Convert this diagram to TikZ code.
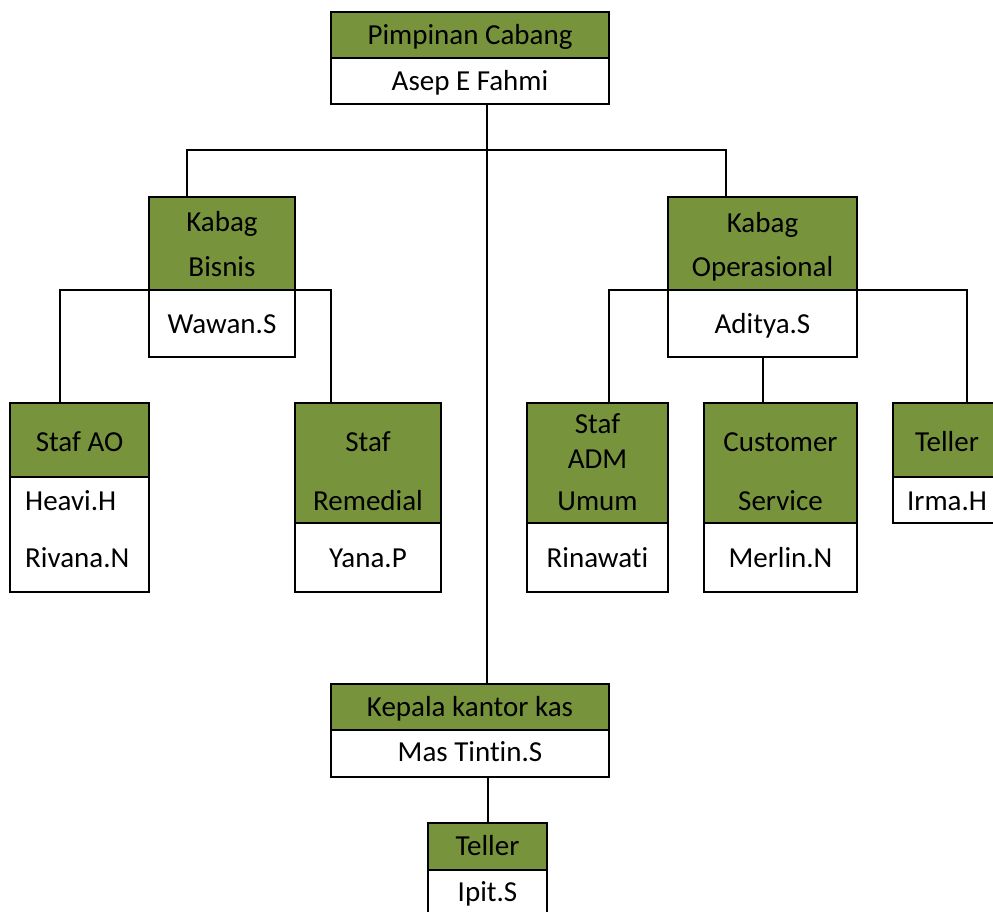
\documentclass[tikz,border=0pt]{standalone}
\usepackage{fontspec}
\setmainfont{Carlito}[Ligatures=NoCommon]
\usetikzlibrary{backgrounds}
\definecolor{olivegreen}{RGB}{119,147,60}
\tikzset{
  box/.style={draw, line width=2pt, inner sep=0pt, outer sep=0pt, anchor=north west},
  hd/.style={box, fill=olivegreen},
  nm/.style={box, fill=white},
  txt/.style={inner sep=0pt, anchor=base, font=\fontsize{29}{35}\selectfont},
  link/.style={line width=2pt}
}
\begin{document}
\begin{tikzpicture}[x=1pt,y=-1pt]
		\clip (0,0) rectangle (993,912);
		% pimpinan
		\node[hd, minimum width=278, minimum height=46] (pc) at (331,12) {};
		\node[nm, minimum width=278, minimum height=46] (pcN) at (331,58) {};
		% kabag
		\node[hd, minimum width=146, minimum height=93] (kb) at (149,197) {};
		\node[nm, minimum width=146, minimum height=67] (kbN) at (149,290) {};
		\node[hd, minimum width=189, minimum height=93] (ko) at (668,197) {};
		\node[nm, minimum width=189, minimum height=67] (koN) at (668,290) {};
		% staf
		\node[hd, minimum width=139, minimum height=74] (ao) at (10,403) {};
		\node[nm, minimum width=139, minimum height=115] (aoN) at (10,477) {};
		\node[hd, minimum width=146, minimum height=120] (rm) at (295,403) {};
		\node[nm, minimum width=146, minimum height=69] (rmN) at (295,523) {};
		\node[hd, minimum width=141, minimum height=120] (adm) at (527,403) {};
		\node[nm, minimum width=141, minimum height=69] (admN) at (527,523) {};
		\node[hd, minimum width=153, minimum height=120] (cs) at (704,403) {};
		\node[nm, minimum width=153, minimum height=69] (csN) at (704,523) {};
		\node[hd, minimum width=108, minimum height=74] (tl) at (893,403) {};
		\node[nm, minimum width=108, minimum height=46] (tlN) at (893,477) {};
		% kantor kas
		\node[hd, minimum width=278, minimum height=46] (kk) at (331,684) {};
		\node[nm, minimum width=278, minimum height=47] (kkN) at (331,730) {};
		\node[hd, minimum width=119, minimum height=47] (kt) at (428,823) {};
		\node[nm, minimum width=119, minimum height=60] (ktN) at (428,870) {};
		% texts
		\node[txt] (pcT) at (470,45) {Pimpinan Cabang};
		\node[txt] (pcNT) at (470,90.5) {Asep E Fahmi};
		\node[txt] (kbT1) at (222,232) {Kabag};
		\node[txt] (kbT2) at (222,276) {Bisnis};
		\node[txt] (kbNT) at (222,333) {Wawan.S};
		\node[txt] (koT1) at (762.5,232.5) {Kabag};
		\node[txt] (koT2) at (762.5,276.5) {Operasional};
		\node[txt] (koNT) at (762.5,333) {Aditya.S};
		\node[txt] (aoT) at (79.5,451) {Staf AO};
		\node[txt,anchor=base west] (aoNT1) at (25,510) {Heavi.H};
		\node[txt,anchor=base west] (aoNT2) at (25,567.5) {Rivana.N};
		\node[txt] (rmT1) at (368,451.5) {Staf};
		\node[txt] (rmT2) at (368,510) {Remedial};
		\node[txt] (rmNT) at (368,567.5) {Yana.P};
		\node[txt] (admT1) at (597.5,433) {Staf};
		\node[txt] (admT2) at (597.5,468) {ADM};
		\node[txt] (admT3) at (597.5,510) {Umum};
		\node[txt] (admNT) at (597.5,567.5) {Rinawati};
		\node[txt] (csT1) at (780.5,451.5) {Customer};
		\node[txt] (csT2) at (780.5,510) {Service};
		\node[txt] (csNT) at (780.5,567.5) {Merlin.N};
		\node[txt] (tlT) at (947,451.5) {Teller};
		\node[txt] (tlNT) at (947,510) {Irma.H};
		\node[txt] (kkT) at (470,716) {Kepala kantor kas};
		\node[txt] (kkNT) at (470,761.5) {Mas Tintin.S};
		\node[txt] (ktT) at (487.5,855) {Teller};
		\node[txt] (ktNT) at (487.5,901.5) {Ipit.S};
		% connectors
		\begin{scope}[on background layer]
		\coordinate (trunk) at (487,150);
		\coordinate (busL) at (187,150);
		\coordinate (busR) at (726,150);
		\coordinate (bL) at (60,290);
		\coordinate (bR) at (331,290);
		\coordinate (oL) at (609,290);
		\coordinate (oR) at (967,290);
		\draw[link] (trunk |- pcN.south) -- (trunk |- kk.north);
		\draw[link] (busL |- kb.north) -- (busL) -- (busR) -- (busR |- ko.north);
		\draw[link] (bL |- ao.north) -- (bL) -- (bR) -- (bR |- rm.north);
		\draw[link] (oL |- adm.north) -- (oL) -- (oR) -- (oR |- tl.north);
		\draw[link] (koN.south) -- (koN.south |- cs.north);
		\draw[link] (kt.north |- kkN.south) -- (kt.north);
		\end{scope}
		\end{tikzpicture}
\end{document}
